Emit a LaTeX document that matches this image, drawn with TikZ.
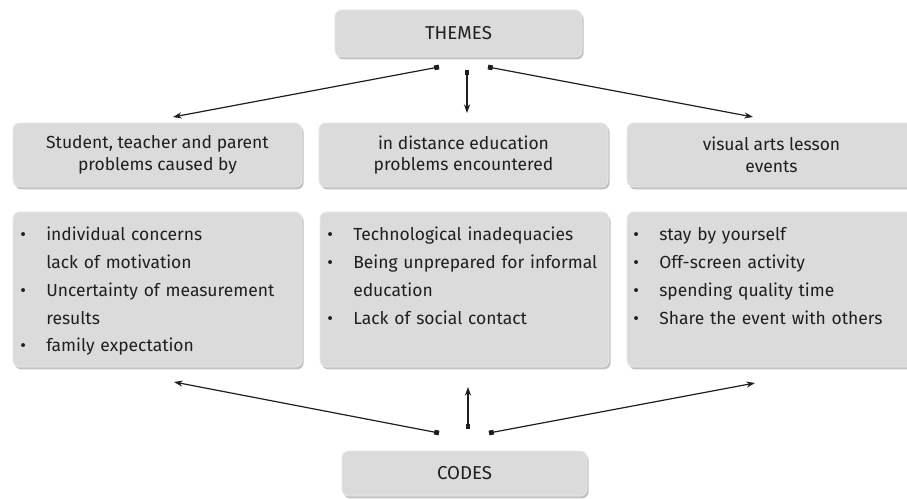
\documentclass[tikz,border=0pt]{standalone}
\usepackage{fontspec}
\setmainfont{Fira Sans}
\usetikzlibrary{arrows.meta,shadows}
\definecolor{boxfill}{HTML}{DBDBDB}
\definecolor{boxline}{HTML}{E9E9E9}
\definecolor{ink}{HTML}{1F1F1F}
\definecolor{arrowink}{HTML}{1E1E1E}
\newcommand\bulitem{\makebox[19.5pt][l]{•}}
\newcommand\contline{\hspace*{19.5pt}}
\begin{document}
\begin{tikzpicture}[x=0.75pt,y=-0.75pt,
  box/.style={draw=boxline, line width=0.6pt, fill=boxfill, rounded corners=5pt,
    drop shadow={shadow xshift=1.2pt, shadow yshift=-1.8pt, opacity=0.35, fill=black!70},
    inner sep=0pt, text=ink},
  head/.style={box, minimum width=216.75pt, minimum height=48pt, align=center,
    font=\fontsize{13.1pt}{16.1pt}\selectfont},
  body/.style={box, minimum width=216.75pt, minimum height=116.25pt},
  bodytext/.style={anchor=base west, inner sep=0pt, text=ink, align=left, text width=210pt,
    font=\fontsize{13.1pt}{20.8pt}\selectfont},
  endbox/.style={box, align=center, font=\fontsize{14pt}{16pt}\selectfont},
  conn/.style={draw=arrowink, line width=0.9pt,
    {Square[length=3.6pt,width=3.6pt]}-{Stealth[length=6.5pt,width=4.6pt]}}
]
\clip (0,0) rectangle (907,499);
\useasboundingbox (0,0) rectangle (907,499);

% top and bottom
\node[endbox, minimum width=185.25pt, minimum height=35.25pt] (themes) at (458.5,33.5) {THEMES};
\node[endbox, minimum width=183.75pt, minimum height=33.75pt] (codes) at (464.5,473.5) {CODES};

% headers
\node[head] (h1) at (157.5,155) {Student, teacher and parent\\problems caused by};
\node[head] (h2) at (463.5,155) {in distance education\\problems encountered};
\node[head] (h3) at (771.5,155) {visual arts lesson\\events};

% bodies
\node[body] (b1) at (157.5,289.5) {};
\node[body] (b2) at (464.5,289.5) {};
\node[body] (b3) at (771.5,289.5) {};

\node[bodytext] (b1t) at (20,241) {\bulitem individual concerns\\\contline lack of motivation\\\bulitem Uncertainty of measurement\\\contline results\\\bulitem family expectation};
\node[bodytext] (b2t) at (327,241) {\bulitem Technological inadequacies\\\bulitem Being unprepared for informal\\\contline education\\\bulitem Lack of social contact};
\node[bodytext] (b3t) at (633,241) {\bulitem stay by yourself\\\bulitem Off-screen activity\\\bulitem spending quality time\\\bulitem Share the event with others};

% connector end points
\coordinate (tl) at (439,67);
\coordinate (tm) at (467,70);
\coordinate (tr) at (488,67);
\coordinate (h1e) at (173,117);
\coordinate (h2e) at (467,113);
\coordinate (h3e) at (753,117);
\coordinate (cl) at (439,433);
\coordinate (cm) at (468,429);
\coordinate (cr) at (489,433);
\coordinate (b1e) at (174,382);
\coordinate (b2e) at (468,387);
\coordinate (b3e) at (755,383);

\draw[conn] (tl) -- (h1e);
\draw[conn] (tm) -- (h2e);
\draw[conn] (tr) -- (h3e);
\draw[conn] (cl) -- (b1e);
\draw[conn] (cm) -- (b2e);
\draw[conn] (cr) -- (b3e);
\end{tikzpicture}
\end{document}
